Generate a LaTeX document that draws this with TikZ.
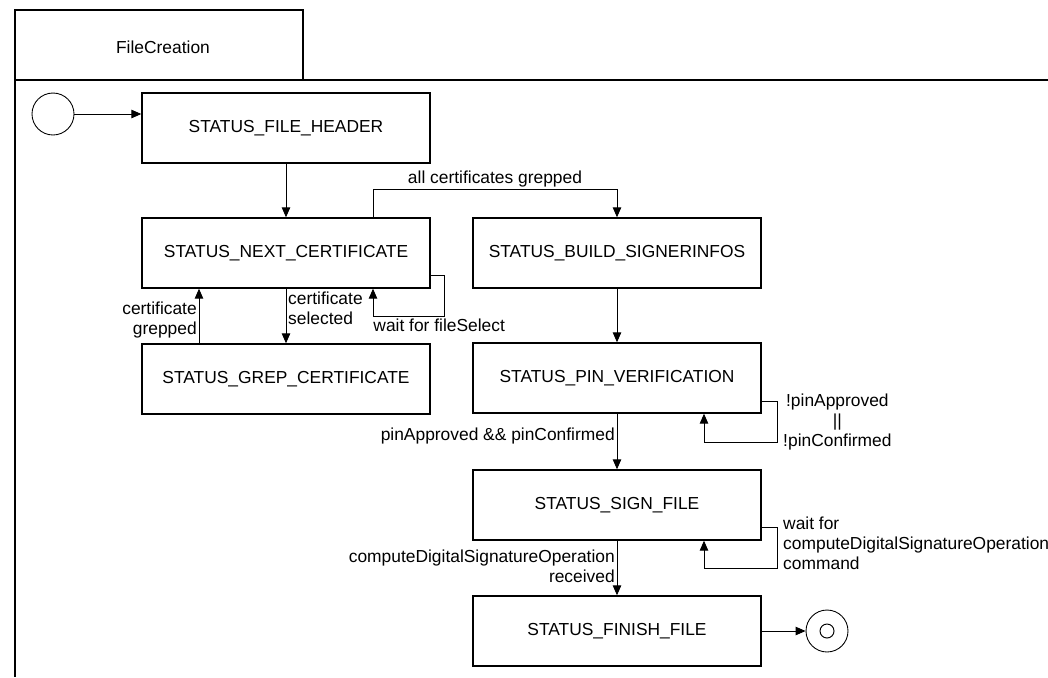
\documentclass[tikz,border=0pt]{standalone}
\usepackage{fontspec}
\setmainfont{Liberation Sans}
\usetikzlibrary{arrows.meta, calc}

\begin{document}
\begin{tikzpicture}[x = 0.02cm, y = -0.02cm, line width = 0.55pt, font = \fontsize{9.9}{11.5}\selectfont,
    state/.style = { draw, line width = 0.8pt, minimum width = 5.76cm, minimum height = 1.4cm, inner sep = 0pt },
    pseudo/.style = { draw, circle, line width = 0.5pt, inner sep = 0pt },
    lbl/.style = { inner sep = 1pt },
    arr/.style = { -{Triangle[length = 2mm, width = 1.7mm]} }]
  \useasboundingbox (0, 0) rectangle (1048, 677);

  % frame
  \draw [line width = 0.8pt] (15, 80) rectangle (303, 10);
  \draw [line width = 0.8pt] (1048, 80) -- (15, 80) -- (15, 677);
  \node (frame) at (163, 47) {FileCreation};

  \node [pseudo, minimum size = 0.84cm] (start) at (53, 114) {};
  \node [state] (header) at (286, 128) {STATUS\_FILE\_HEADER};
  \node [state] (next) at (286, 253) {STATUS\_NEXT\_CERTIFICATE};
  \node [state] (grep) at (286, 379) {STATUS\_GREP\_CERTIFICATE};
  \node [state] (build) at (617, 253) {STATUS\_BUILD\_SIGNERINFOS};
  \node [state] (pin) at (617, 378) {STATUS\_PIN\_VERIFICATION};
  \node [state] (sign) at (617, 505) {STATUS\_SIGN\_FILE};
  \node [state] (finish) at (617, 631) {STATUS\_FINISH\_FILE};
  \node [pseudo, minimum size = 0.84cm] (final) at (827, 631) {};
  \draw (final) circle (7);

  \draw [arr] (start) -- (start -| header.west);
  \draw [arr] (header) -- (next);
  \draw [arr] ($(next.south) + (0, 0)$) -- (grep.north)
    node [lbl, right, align = left, pos = 0.36] {certificate\\selected};
  \draw [arr] ($(grep.north) + (-87, 0)$) -- ($(next.south) + (-87, 0)$)
    node [lbl, left, align = right, pos = 0.42] {certificate\\grepped};
  \draw [arr] ($(next.east) + (0, 22)$) -- ++(14, 0) |- ($(next.south) + (87, 28)$)
    node [lbl, below right, pos = 1, xshift = -1pt] {wait for fileSelect} -- ($(next.south) + (87, 0)$);
  \draw [arr] ($(next.north) + (87, 0)$) |- ($(build.north) + (0, -28)$)
    node [lbl, above, pos = 0.75] {all certificates grepped} -- (build.north);
  \draw [arr] (build) -- (pin);
  \draw [arr] (pin) -- (sign)
    node [lbl, left, pos = 0.4] {pinApproved \&\& pinConfirmed};
  \draw [arr] ($(pin.east) + (0, 23)$) -- ++(16, 0) |- ($(pin.south) + (87, 29)$) -- ($(pin.south) + (87, 0)$);
  \node [lbl, align = center, anchor = west] (pinlbl) at (781, 422) {!pinApproved\\||\\!pinConfirmed};
  \draw [arr] (sign) -- (finish)
    node [lbl, left, align = right, pos = 0.47] {computeDigitalSignatureOperation\\received};
  \draw [arr] ($(sign.east) + (0, 22)$) -- ++(16, 0) |- ($(sign.south) + (87, 28)$) -- ($(sign.south) + (87, 0)$);
  \node [lbl, align = left, anchor = west] (signlbl) at (781, 543) {wait for\\computeDigitalSignatureOperation\\command};
  \draw [arr] (finish) -- (final);
\end{tikzpicture}
\end{document}
